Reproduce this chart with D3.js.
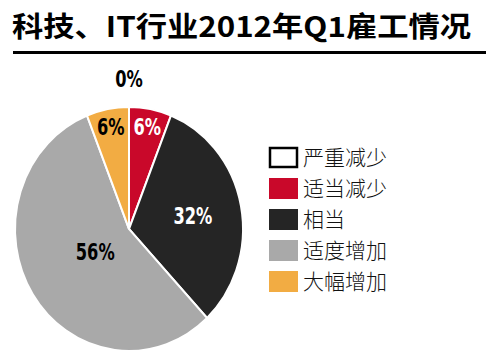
<!DOCTYPE html>
<meta charset="utf-8">
<script src="https://d3js.org/d3.v7.min.js"></script>
<style>
  body { margin: 0; background: #fff; }
  .title { font: bold 28px "Noto Sans CJK SC", sans-serif; fill: #000; }
  .slice { stroke: #fff; stroke-width: 2px; }
  .pct { font-family: "DejaVu Sans", sans-serif; font-stretch: condensed; font-weight: bold; font-size: 19px; text-anchor: middle; }
  .legend text { font: 300 21px "Noto Sans CJK SC", sans-serif; fill: #111; }
</style>
<body>
<script>
  var categories = ['严重减少', '适当减少', '相当', '适度增加', '大幅增加'];
  var values = [0, 6, 32, 56, 6];
  var labels = ['0%', '6%', '32%', '56%', '6%'];
  var colors = ['#ffffff', '#c9082a', '#252525', '#a9a9a9', '#f2ac43'];
  var labelColors = ['#000', '#fff', '#fff', '#000', '#000'];

  var W = 486, H = 361;
  var cx = 129, cy = 229, r = 114, sy = 1.07;

  var svg = d3.select('body').append('svg')
    .attr('width', W)
    .attr('height', H);

  svg.append('text')
    .attr('class', 'title')
    .attr('x', 12)
    .attr('y', 37)
    .attr('textLength', 459)
    .attr('lengthAdjust', 'spacingAndGlyphs')
    .text('科技、IT行业2012年Q1雇工情况');

  svg.append('rect')
    .attr('x', 13).attr('y', 51)
    .attr('width', W - 13).attr('height', 3)
    .attr('fill', '#000');

  var pie = d3.pie().sort(null).value(function(d){ return d; });
  var arcs = pie(values);
  var arc = d3.arc().innerRadius(0).outerRadius(r);

  var g = svg.append('g')
    .attr('transform', 'translate(' + cx + ',' + cy + ') scale(1,' + sy + ')');

  g.selectAll('path.slice').data(arcs)
    .enter()
    .append('path')
    .attr('class', 'slice')
    .attr('d', arc)
    .attr('fill', function(d, i){ return colors[i]; })
    .style('display', function(d){ return d.value === 0 ? 'none' : null; });

  // label radius depends on slice size: empty slice sits outside, thin ones near the rim
  function labelR(d){
    if (d.value === 0) return 140;
    if (d.value < 10) return 97;
    if (d.value < 40) return 65;
    return 40;
  }

  svg.selectAll('text.pct').data(arcs)
    .enter()
    .append('text')
    .attr('class', 'pct')
    .attr('transform', function(d){
      var a = (d.startAngle + d.endAngle) / 2;
      var x = cx + labelR(d) * Math.sin(a);
      var y = cy - labelR(d) * Math.cos(a) * sy;
      return 'translate(' + x + ',' + y + ') scale(0.95,1.2)';
    })
    .attr('dy', '0.36em')
    .attr('fill', function(d, i){ return labelColors[i]; })
    .text(function(d, i){ return labels[i]; });

  var ly = d3.scaleBand().domain(categories).range([147, 302]);

  var legend = svg.append('g').attr('class', 'legend');
  var rows = legend.selectAll('g').data(categories)
    .enter()
    .append('g')
    .attr('transform', function(d){ return 'translate(269,' + ly(d) + ')'; });

  rows.append('rect')
    .attr('x', function(d, i){ return i === 0 ? 1 : 0; })
    .attr('y', function(d, i){ return i === 0 ? 1 : 0; })
    .attr('width', function(d, i){ return i === 0 ? 27 : 29; })
    .attr('height', function(d, i){ return i === 0 ? 19 : 21; })
    .attr('fill', function(d, i){ return colors[i]; })
    .attr('stroke', function(d, i){ return i === 0 ? '#000' : 'none'; })
    .attr('stroke-width', 2.5);

  rows.append('text')
    .attr('x', 34)
    .attr('y', 10.5)
    .attr('dy', '0.36em')
    .text(function(d){ return d; });
</script>
</body>
</html>
